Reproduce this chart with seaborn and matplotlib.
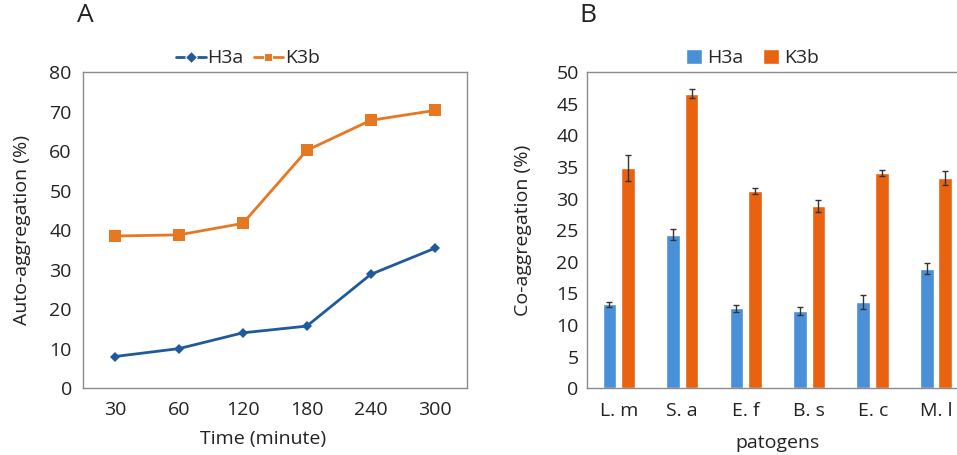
import numpy as np
import pandas as pd
import matplotlib
matplotlib.use("Agg")
import matplotlib.pyplot as plt
import seaborn as sns

# data
times = ["30", "60", "120", "180", "240", "300"]
auto_h3a = [8.0, 10.0, 14.0, 15.7, 28.8, 35.4]
auto_k3b = [38.5, 38.8, 41.7, 60.2, 67.8, 70.3]

pathogens = ["L. m", "S. a", "E. f", "B. s", "E. c", "M. l"]
co_h3a = [13.3, 24.3, 12.6, 12.2, 13.6, 18.9]
co_h3a_err = [0.4, 0.9, 0.6, 0.7, 1.1, 0.9]
co_k3b = [34.8, 46.6, 31.2, 28.8, 34.0, 33.2]
co_k3b_err = [2.1, 0.7, 0.5, 1.0, 0.5, 1.1]

sns.set_style("white")
plt.rcParams['font.family'] = ['Open Sans', 'DejaVu Sans']
plt.rcParams['font.size'] = 14

line_blue = "#1f5b9c"
line_orange = "#e87722"
bar_blue = "#4a90d9"
bar_orange = "#e8620f"
spine_grey = "#8c8c8c"
text_col = "#222222"
fs = 14

fig = plt.figure(figsize=(9.57, 4.55), dpi=100)
ax1 = fig.add_axes([0.0867, 0.147, 0.401, 0.6945])
ax2 = fig.add_axes([0.6134, 0.147, 0.398, 0.6945])

# =====================================
# A: auto-aggregation
# =====================================
df_auto = pd.DataFrame({
    "pos": list(range(len(times))) * 2,
    "value": auto_h3a + auto_k3b,
    "strain": ["H3a"] * len(times) + ["K3b"] * len(times),
})

sns.lineplot(data=df_auto, x="pos", y="value", hue="strain", style="strain",
             palette={"H3a": line_blue, "K3b": line_orange},
             markers={"H3a": "D", "K3b": "s"}, dashes=False,
             linewidth=2, ax=ax1)
for ln, ms in zip(ax1.lines, [5, 8]):
    ln.set_markersize(ms)
    ln.set_markeredgewidth(0)

ax1.set_xlim(-0.5, 5.5)
ax1.set_ylim(0, 80)
ax1.set_xticks(range(len(times)))
ax1.set_xticklabels(times)
ax1.set_xticks(np.arange(0.5, 5.6, 1), minor=True)
ax1.tick_params(axis="x", which="major", length=0, pad=9, labelcolor=text_col,
                labelsize=fs)
ax1.tick_params(axis="x", which="minor", length=5, color=spine_grey, direction="out")
ax1.tick_params(axis="y", length=5, color=spine_grey, direction="out", pad=3,
                labelcolor=text_col, labelsize=fs)
ax1.set_yticks(range(0, 81, 10))
ax1.set_xlabel("Time (minute)", fontsize=fs, color=text_col)
ax1.set_ylabel("Auto-aggregation (%)", fontsize=fs, color=text_col)
ax1.xaxis.set_label_coords(0.47, -0.133)
ax1.yaxis.set_label_coords(-0.135, 0.5)
for sp in ax1.spines.values():
    sp.set_color(spine_grey)
    sp.set_linewidth(1)

h, l = ax1.get_legend_handles_labels()
ax1.legend(h, l, loc="lower center", bbox_to_anchor=(0.43, 0.99), ncol=2,
           frameon=False, fontsize=fs, handlelength=1.5, handletextpad=0.1,
           columnspacing=0.5, borderaxespad=0)
ax1.text(-0.015, 1.16, "A", transform=ax1.transAxes, fontsize=19, color=text_col)

# =====================================
# B: co-aggregation
# =====================================
df_co = pd.DataFrame({
    "pathogen": pathogens * 2,
    "value": co_h3a + co_k3b,
    "strain": ["H3a"] * len(pathogens) + ["K3b"] * len(pathogens),
})

sns.barplot(data=df_co, x="pathogen", y="value", hue="strain",
            palette={"H3a": bar_blue, "K3b": bar_orange}, saturation=1,
            width=0.584, gap=0.25, errorbar=None, ax=ax2)

errs = co_h3a_err + co_k3b_err
vals = co_h3a + co_k3b
bars = [p for p in ax2.patches if p.get_height() > 0][:len(vals)]
xs = [b.get_x() + b.get_width() / 2 for b in bars]
ax2.errorbar(xs, vals, yerr=errs, fmt="none", ecolor="#333333",
             elinewidth=1, capsize=2.5, capthick=1)

ax2.set_xlim(-0.5, 5.5)
ax2.set_ylim(0, 50)
ax2.set_yticks(range(0, 51, 5))
ax2.tick_params(axis="x", length=0, pad=10, labelcolor=text_col, labelsize=fs)
ax2.tick_params(axis="y", length=0, pad=6, labelcolor=text_col, labelsize=fs)
ax2.set_xlabel("patogens", fontsize=fs, color=text_col)
ax2.set_ylabel("Co-aggregation (%)", fontsize=fs, color=text_col)
ax2.xaxis.set_label_coords(0.5, -0.145)
ax2.yaxis.set_label_coords(-0.144, 0.5)
for sp in ax2.spines.values():
    sp.set_color(spine_grey)
    sp.set_linewidth(1)

h, l = ax2.get_legend_handles_labels()
ax2.legend(h, l, loc="lower center", bbox_to_anchor=(0.435, 0.99), ncol=2,
           frameon=False, fontsize=fs, handlelength=0.8, handleheight=0.8,
           handletextpad=0.3, columnspacing=1.0, borderaxespad=0)
ax2.text(-0.02, 1.16, "B", transform=ax2.transAxes, fontsize=19, color=text_col)

fig.savefig("out.png", dpi=100, facecolor="white")
